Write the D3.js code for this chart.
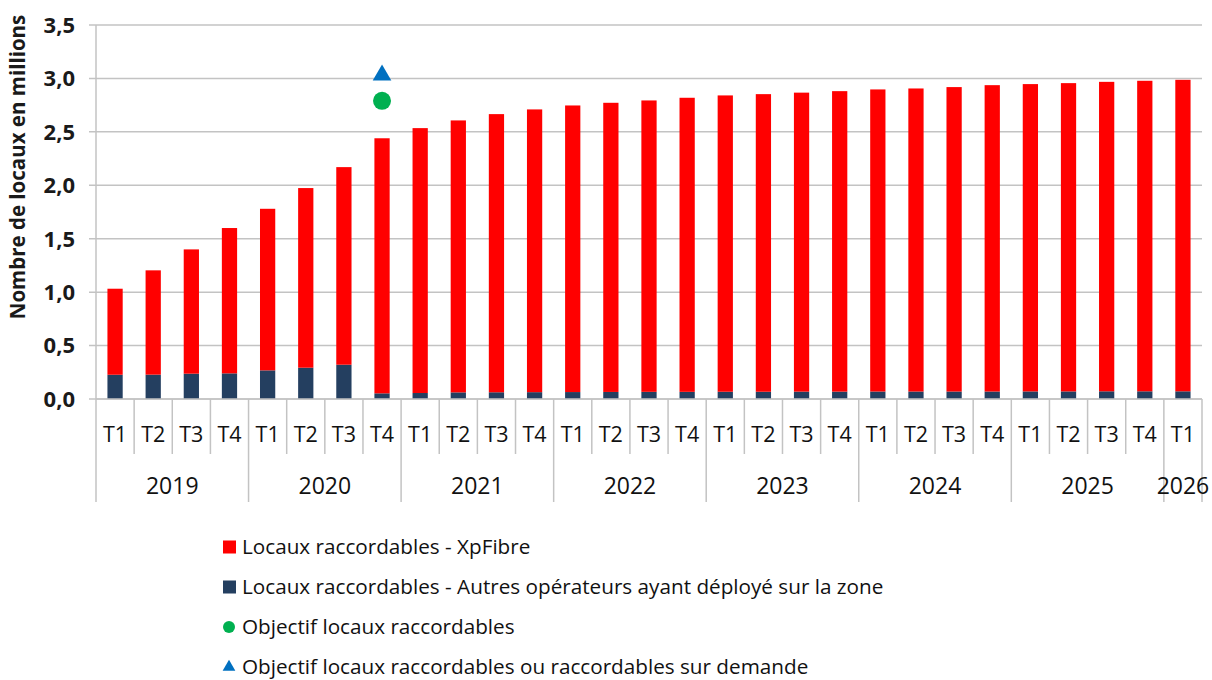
<!DOCTYPE html>
<html>
<head>
<meta charset="utf-8">
<script src="https://cdn.jsdelivr.net/npm/d3@7"></script>
<style>
  body { margin: 0; background: #fff; }
  svg { display: block; font-family: 'Open Sans', 'Noto Sans', sans-serif; }
</style>
</head>
<body>
<script>
const quarters = ['T1','T2','T3','T4','T1','T2','T3','T4','T1','T2','T3','T4','T1','T2','T3','T4',
  'T1','T2','T3','T4','T1','T2','T3','T4','T1','T2','T3','T4','T1'];
const years = ['2019','2020','2021','2022','2023','2024','2025','2026'];
const quartersPerYear = [4, 4, 4, 4, 4, 4, 4, 1];

// millions de locaux
const xpfibre = [0.805, 0.976, 1.163, 1.36, 1.512, 1.681, 1.849, 2.387, 2.479, 2.545, 2.603, 2.646,
  2.682, 2.706, 2.727, 2.752, 2.773, 2.785, 2.798, 2.812, 2.827, 2.836, 2.849, 2.867, 2.876, 2.885,
  2.896, 2.906, 2.915];
const autres = [0.227, 0.228, 0.237, 0.24, 0.268, 0.293, 0.321, 0.053, 0.056, 0.062, 0.063, 0.064,
  0.065, 0.066, 0.067, 0.067, 0.068, 0.068, 0.069, 0.069, 0.07, 0.07, 0.07, 0.07, 0.071, 0.071,
  0.072, 0.072, 0.072];

const objIndex = 7; // 2020 T4
const objRaccordables = 2.79;
const objSurDemande = 3.03;

const yTicks = [0, 0.5, 1, 1.5, 2, 2.5, 3, 3.5];

const legendItems = [
  { label: 'Locaux raccordables - XpFibre', type: 'square', color: '#ff0000' },
  { label: 'Locaux raccordables - Autres opérateurs ayant déployé sur la zone', type: 'square', color: '#243f60' },
  { label: 'Objectif locaux raccordables', type: 'circle', color: '#00b050' },
  { label: 'Objectif locaux raccordables ou raccordables sur demande', type: 'triangle', color: '#0070c0' }
];

const width = 1212;
const height = 680;
const margin = { top: 25, left: 96 };
const plotRight = 1202;
const plotBottom = 399;
const gridColor = '#c3c3c3';

const svg = d3.select('body')
  .append('svg')
  .attr('width', width)
  .attr('height', height);

const idx = d3.range(quarters.length);

const x = d3.scaleBand()
  .domain(idx)
  .range([margin.left, plotRight])
  .paddingInner(0.6)
  .paddingOuter(0.3);

const y = d3.scaleLinear()
  .domain([0, 3.5])
  .range([plotBottom, margin.top]);

const step = x.step();

// gridlines
svg.append('g')
  .selectAll('line')
  .data(yTicks).enter()
  .append('line')
  .attr('x1', margin.left - 7)
  .attr('x2', plotRight)
  .attr('y1', d => y(d))
  .attr('y2', d => y(d))
  .attr('stroke', gridColor)
  .attr('stroke-width', 1.5);

// y axis line
svg.append('line')
  .attr('x1', margin.left).attr('x2', margin.left)
  .attr('y1', margin.top).attr('y2', plotBottom)
  .attr('stroke', gridColor)
  .attr('stroke-width', 1.5);

// y tick labels
svg.append('g')
  .selectAll('text')
  .data(yTicks).enter()
  .append('text')
  .attr('x', 75)
  .attr('y', d => y(d))
  .attr('dy', '0.36em')
  .attr('text-anchor', 'end')
  .attr('font-size', 22)
  .attr('font-weight', 'bold')
  .attr('fill', '#1a1a1a')
  .text(d => d3.format('.1f')(d).replace('.', ','));

// y title
svg.append('text')
  .attr('transform', 'translate(25, 167) rotate(-90)')
  .attr('text-anchor', 'middle')
  .attr('font-size', 20.5)
  .attr('font-weight', 'bold')
  .attr('fill', '#1a1a1a')
  .text('Nombre de locaux en millions');

// stacked bars
const rows = idx.map(i => ({ i, autres: autres[i], xpfibre: xpfibre[i] }));
const series = d3.stack().keys(['autres', 'xpfibre'])(rows);
const colors = { autres: '#243f60', xpfibre: '#ff0000' };

svg.append('g')
  .selectAll('g')
  .data(series).enter()
  .append('g')
  .attr('fill', d => colors[d.key])
  .selectAll('rect')
  .data(d => d).enter()
  .append('rect')
  .attr('x', d => x(d.data.i))
  .attr('width', x.bandwidth())
  .attr('y', d => y(d[1]))
  .attr('height', d => y(d[0]) - y(d[1]));

// objective markers
const cx = x(objIndex) + x.bandwidth() / 2;
svg.append('circle')
  .attr('cx', cx)
  .attr('cy', y(objRaccordables))
  .attr('r', 9)
  .attr('fill', '#00b050');

svg.append('path')
  .attr('d', d3.symbol().type(d3.symbolTriangle).size(150)())
  .attr('transform', `translate(${cx}, ${y(objSurDemande)})`)
  .attr('fill', '#0070c0');

// category axis
const axisG = svg.append('g');
axisG.append('line')
  .attr('x1', margin.left).attr('x2', plotRight)
  .attr('y1', plotBottom).attr('y2', plotBottom)
  .attr('stroke', gridColor)
  .attr('stroke-width', 1.5);

axisG.selectAll('line.q')
  .data(d3.range(quarters.length + 1)).enter()
  .append('line')
  .attr('class', 'q')
  .attr('x1', d => margin.left + d * step)
  .attr('x2', d => margin.left + d * step)
  .attr('y1', plotBottom)
  .attr('y2', 454)
  .attr('stroke', gridColor)
  .attr('stroke-width', 1.5);

const yearStarts = [0];
quartersPerYear.forEach((n, k) => yearStarts.push(yearStarts[k] + n));
axisG.selectAll('line.y')
  .data(yearStarts).enter()
  .append('line')
  .attr('class', 'y')
  .attr('x1', d => margin.left + d * step)
  .attr('x2', d => margin.left + d * step)
  .attr('y1', 454)
  .attr('y2', 502)
  .attr('stroke', gridColor)
  .attr('stroke-width', 1.5);

axisG.selectAll('text.q')
  .data(quarters).enter()
  .append('text')
  .attr('class', 'q')
  .attr('x', (d, i) => x(i) + x.bandwidth() / 2)
  .attr('y', 434)
  .attr('dy', '0.36em')
  .attr('text-anchor', 'middle')
  .attr('font-size', 21.5)
  .attr('fill', '#111')
  .text(d => d);

axisG.selectAll('text.yr')
  .data(years).enter()
  .append('text')
  .attr('class', 'yr')
  .attr('x', (d, k) => margin.left + (yearStarts[k] + quartersPerYear[k] / 2) * step)
  .attr('y', 486)
  .attr('dy', '0.36em')
  .attr('text-anchor', 'middle')
  .attr('font-size', 23)
  .attr('fill', '#111')
  .text(d => d);

// legend
const legend = svg.append('g')
  .selectAll('g')
  .data(legendItems).enter()
  .append('g')
  .attr('transform', (d, i) => `translate(229, ${547 + i * 40})`);

legend.each(function (d) {
  const g = d3.select(this);
  if (d.type === 'square') {
    g.append('rect').attr('x', -6).attr('y', -6.5).attr('width', 13).attr('height', 13).attr('fill', d.color);
  } else if (d.type === 'circle') {
    g.append('circle').attr('r', 6).attr('fill', d.color);
  } else {
    g.append('path').attr('d', d3.symbol().type(d3.symbolTriangle).size(70)()).attr('fill', d.color);
  }
});

legend.append('text')
  .attr('x', 13)
  .attr('dy', '0.36em')
  .attr('font-size', 20.7)
  .attr('fill', '#111')
  .text(d => d.label);
</script>
</body>
</html>
